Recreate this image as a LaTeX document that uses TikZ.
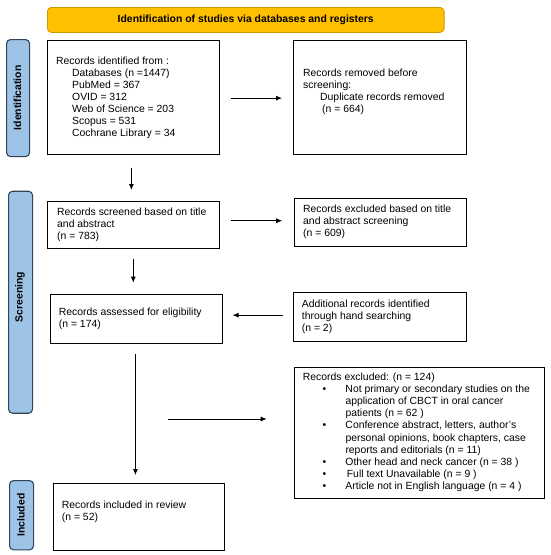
\documentclass[tikz,border=0pt]{standalone}
\usepackage{fontspec}
\setmainfont{Liberation Sans}
\usetikzlibrary{arrows.meta}
\definecolor{ttlfill}{HTML}{FFC000}
\definecolor{ttlline}{HTML}{C99A00}
\definecolor{barfill}{HTML}{9DC3E6}
\definecolor{barline}{HTML}{31465C}
\newcommand\bdyfont{\fontsize{10.4}{12}\selectfont}
\newcommand\exfont{\fontsize{10.4}{12.2}\selectfont}
\tikzset{
  box/.style={draw=black, line width=0.9pt, fill=white, inner sep=0pt, anchor=north west},
  sidebar/.style={draw=barline, fill=barfill, line width=1.1pt, rounded corners=4pt, inner sep=0pt, anchor=north west},
  sidelabel/.style={rotate=90, inner sep=0pt, font=\bdyfont\bfseries},
  txt/.style={anchor=base west, inner sep=0pt, font=\bdyfont},
  arr/.style={-{Latex[length=6pt,width=5pt]}, line width=0.8pt},
}
\begin{document}
\begin{tikzpicture}[x=1pt,y=-1pt]
\fill[white] (0,0) rectangle (550,555);
\useasboundingbox (0,0) rectangle (550,555);

% title
\node[draw=ttlline, fill=ttlfill, line width=0.8pt, rounded corners=4pt, anchor=north west,
      minimum width=396.7pt, minimum height=25pt, inner sep=0pt, font=\bdyfont\bfseries]
      (ttl) at (47,7) {Identification of studies via databases and registers};

% side bars
\node[sidebar, minimum width=23pt, minimum height=117pt] (barI) at (6,39) {};
\node[sidebar, minimum width=24pt, minimum height=222pt] (barS) at (8,190.7) {};
\node[sidebar, minimum width=24pt, minimum height=69.3pt] (barN) at (9,480) {};
\node[sidelabel] (labI) at (17.5,97.8) {Identification};
\node[sidelabel] (labS) at (20,297) {Screening};
\node[sidelabel] (labN) at (21,515) {Included};

% boxes
\node[box, minimum width=171.7pt, minimum height=114pt] (b1) at (47,40) {};
\node[box, minimum width=172.5pt, minimum height=114pt] (b2) at (293,40) {};
\node[box, minimum width=171.7pt, minimum height=47.6pt] (b3) at (47,200.7) {};
\node[box, minimum width=172pt, minimum height=48.3pt] (b4) at (293.7,197.7) {};
\node[box, minimum width=171.7pt, minimum height=48.4pt] (b5) at (50,294.3) {};
\node[box, minimum width=172.4pt, minimum height=48.4pt] (b6) at (293.3,292.3) {};
\node[box, minimum width=250pt, minimum height=131pt] (b7) at (294.3,366.7) {};
\node[box, minimum width=171.6pt, minimum height=66.7pt] (b8) at (52.7,483.3) {};

% texts
\node[txt] (t1) at (56,64.7) {\begin{tabular}[t]{@{}l@{}}
Records identified from :\\
\hspace*{16pt}Databases (n =1447)\\
\hspace*{16pt}PubMed = 367\\
\hspace*{16pt}OVID = 312\\
\hspace*{16pt}Web of Science = 203\\
\hspace*{16pt}Scopus = 531\\
\hspace*{16pt}Cochrane Library = 34
\end{tabular}};
\node[txt] (t2) at (303,76) {\begin{tabular}[t]{@{}l@{}}
Records removed before\\
screening:\\
\hspace*{17pt}Duplicate records removed\\
\hspace*{19pt}(n = 664)
\end{tabular}};
\node[txt] (t3) at (57,215.7) {\begin{tabular}[t]{@{}l@{}}
Records screened based on title\\
and abstract\\
(n = 783)
\end{tabular}};
\node[txt] (t4) at (303,212.7) {\begin{tabular}[t]{@{}l@{}}
Records excluded based on title\\
and abstract screening\\
(n = 609)
\end{tabular}};
\node[txt] (t5) at (58.7,315.7) {\begin{tabular}[t]{@{}l@{}}
Records assessed for eligibility\\
(n = 174)
\end{tabular}};
\node[txt] (t6) at (301.7,307.3) {\begin{tabular}[t]{@{}l@{}}
Additional records identified\\
through hand searching\\
(n = 2)
\end{tabular}};
\node[txt, font=\exfont] (t7) at (302.7,380) {\begin{tabular}[t]{@{}p{19.8pt}@{}p{22.8pt}@{}l@{}}
\multicolumn{3}{@{}l@{}}{Records excluded: (n = 124)}\\
 & • & Not primary or secondary studies on the\\
 & & application of CBCT in oral cancer\\
 & & patients (n = 62 )\\
 & • & Conference abstract, letters, author’s\\
 & & personal opinions, book chapters, case\\
 & & reports and editorials (n = 11)\\
 & • & Other head and neck cancer (n = 38 )\\
 & • & \hspace*{1.4pt}Full text Unavailable (n = 9 )\\
 & • & Article not in English language (n = 4 )
\end{tabular}};
\node[txt] (t8) at (61.7,508.3) {\begin{tabular}[t]{@{}l@{}}
Records included in review\\
(n = 52)
\end{tabular}};

% arrows
\draw[arr] ([xshift=11pt,yshift=-0.7pt]b1.east) -- ([xshift=-11pt,yshift=-0.7pt]b2.west);
\draw[arr] ([xshift=11pt,yshift=4.2pt]b3.east) coordinate (s34) -- ([xshift=-11.5pt]b4.west |- s34);
\draw[arr] ([xshift=-10.6pt,yshift=1.8pt]b6.west) coordinate (s65) -- ([xshift=10pt]b5.east |- s65);
\draw[arr] ([xshift=-1.9pt,yshift=-13pt]b1.south) coordinate (s13) -- ([yshift=10.7pt]b3.north -| s13);
\draw[arr] ([yshift=-9.4pt]b3.south) coordinate (s35) -- ([yshift=11.6pt]b5.north -| s35);
\draw[arr] ([xshift=-0.85pt,yshift=-10.3pt]b5.south) coordinate (s58) -- ([yshift=8.3pt]b8.north -| s58);
\coordinate (br) at (168.3,419);
\draw[arr] (br) -- ([xshift=-27.6pt]b7.west |- br);
\end{tikzpicture}
\end{document}
